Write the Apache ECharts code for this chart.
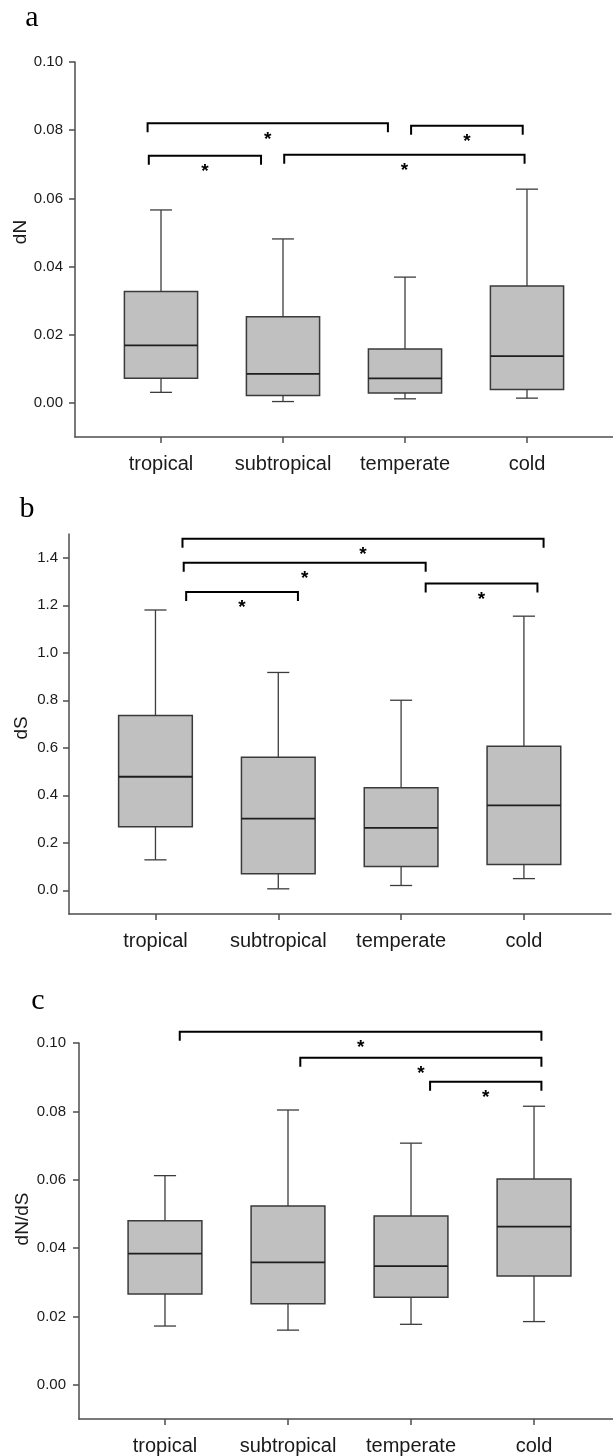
<!DOCTYPE html>
<html>
<head>
<meta charset="utf-8">
<script src="https://cdn.jsdelivr.net/npm/echarts@6/dist/echarts.min.js"></script>
<style>
  html, body { margin: 0; padding: 0; background: #ffffff; }
  #chart { width: 613px; height: 1456px; }
</style>
</head>
<body>
<div id="chart"></div>
<script>
// Climate zones on the x axis
const categories = ['tropical', 'subtropical', 'temperate', 'cold'];

// Box statistics per zone: [min, Q1, median, Q3, max]
const dnStats = [
  [0.0031, 0.0072, 0.0169, 0.0327, 0.0566],
  [0.0004, 0.0022, 0.0085, 0.0253, 0.0481],
  [0.0012, 0.0029, 0.0072, 0.0158, 0.0369],
  [0.0014, 0.0039, 0.0137, 0.0343, 0.0627]
];
const dsStats = [
  [0.128, 0.267, 0.478, 0.736, 1.180],
  [0.006, 0.070, 0.302, 0.560, 0.917],
  [0.020, 0.100, 0.263, 0.432, 0.800],
  [0.049, 0.108, 0.357, 0.606, 1.154]
];
const dndsStats = [
  [0.0172, 0.0266, 0.0384, 0.0480, 0.0612],
  [0.0160, 0.0237, 0.0358, 0.0523, 0.0804],
  [0.0177, 0.0256, 0.0347, 0.0494, 0.0707],
  [0.0185, 0.0318, 0.0463, 0.0602, 0.0815]
];

// Significance brackets: [from (category units), to (category units), bracket height]
const dnBrackets = [[-0.11, 1.86, 0.0820], [2.05, 2.965, 0.0813], [-0.10, 0.82, 0.0725], [1.01, 2.98, 0.0728]];
const dsBrackets = [[0.22, 3.16, 1.480], [0.23, 2.20, 1.379], [0.25, 1.16, 1.256], [2.20, 3.11, 1.292]];
const dndsBrackets = [[0.12, 3.06, 0.1033], [1.10, 3.06, 0.0957], [2.155, 3.06, 0.0887]];

// Tick values for each y axis
const dnTicks = [0, 0.02, 0.04, 0.06, 0.08, 0.10];
const dsTicks = [0, 0.2, 0.4, 0.6, 0.8, 1.0, 1.2, 1.4];
const dndsTicks = [0, 0.02, 0.04, 0.06, 0.08, 0.10];
const categoryTicks = [0, 1, 2, 3];

const panels = [
  { letter: 'a', yName: 'dN', stats: dnStats, brackets: dnBrackets, ticks: dnTicks, digits: 2,
    yMin: -0.01, yMax: 0.10, xMin: -0.705, xMax: 3.705,
    grid: { left: 75, top: 62, width: 538, height: 375 }, labelMargin: 12,
    letterPos: [32, 18], namePos: [21, 232] },
  { letter: 'b', yName: 'dS', stats: dsStats, brackets: dsBrackets, ticks: dsTicks, digits: 1,
    yMin: -0.1, yMax: 1.5, xMin: -0.704, xMax: 3.709,
    grid: { left: 69, top: 534, width: 542, height: 380 }, labelMargin: 11,
    letterPos: [27, 509], namePos: [22, 728] },
  { letter: 'c', yName: 'dN/dS', stats: dndsStats, brackets: dndsBrackets, ticks: dndsTicks, digits: 2,
    yMin: -0.01, yMax: 0.10, xMin: -0.699, xMax: 3.642,
    grid: { left: 79, top: 1043, width: 534, height: 380 }, labelMargin: 13,
    letterPos: [38, 1001], namePos: [23, 1219] }
];

const AXIS_COLOR = '#4d4d4d';
const TEXT_COLOR = '#1a1a1a';
const SANS = '"Liberation Sans", Arial, sans-serif';

function renderBox(params, api) {
  const x = api.value(0);
  const mn = api.value(1), q1 = api.value(2), md = api.value(3), q3 = api.value(4), mx = api.value(5);
  const half = api.size([0.6, 0])[0] / 2;
  const cap = api.size([0.18, 0])[0] / 2;
  const pMin = api.coord([x, mn]);
  const pQ1 = api.coord([x, q1]);
  const pMd = api.coord([x, md]);
  const pQ3 = api.coord([x, q3]);
  const pMax = api.coord([x, mx]);
  const cx = pMin[0];
  const whisker = { stroke: '#3c3c3c', lineWidth: 1.3 };
  return {
    type: 'group',
    children: [
      { type: 'line', shape: { x1: cx, y1: pQ3[1], x2: cx, y2: pMax[1] }, style: whisker },
      { type: 'line', shape: { x1: cx - cap, y1: pMax[1], x2: cx + cap, y2: pMax[1] }, style: whisker },
      { type: 'line', shape: { x1: cx, y1: pQ1[1], x2: cx, y2: pMin[1] }, style: whisker },
      { type: 'line', shape: { x1: cx - cap, y1: pMin[1], x2: cx + cap, y2: pMin[1] }, style: whisker },
      { type: 'rect', shape: { x: cx - half, y: pQ3[1], width: half * 2, height: pQ1[1] - pQ3[1] },
        style: { fill: '#c0c0c0', stroke: '#3a3a3a', lineWidth: 1.5 } },
      { type: 'line', shape: { x1: cx - half, y1: pMd[1], x2: cx + half, y2: pMd[1] },
        style: { stroke: '#1e1e1e', lineWidth: 1.8 } }
    ]
  };
}

function renderBracket(params, api) {
  const a = api.coord([api.value(0), api.value(2)]);
  const b = api.coord([api.value(1), api.value(2)]);
  const leg = 9;
  return {
    type: 'group',
    children: [
      { type: 'polyline',
        shape: { points: [[a[0], a[1] + leg], [a[0], a[1]], [b[0], b[1]], [b[0], b[1] + leg]] },
        style: { fill: null, stroke: '#000000', lineWidth: 2 } },
      { type: 'text',
        style: { text: '*', x: (a[0] + b[0]) / 2, y: a[1] + 16, align: 'center', verticalAlign: 'middle',
                 font: 'bold 19px ' + SANS, fill: '#000000' } }
    ]
  };
}

const grids = [], xAxes = [], yAxes = [], series = [], graphics = [];

panels.forEach((p, i) => {
  grids.push(Object.assign({ containLabel: false }, p.grid));
  xAxes.push({
    gridIndex: i, type: 'value', min: p.xMin, max: p.xMax,
    splitLine: { show: false },
    axisLine: { show: true, onZero: false, lineStyle: { color: AXIS_COLOR, width: 1.5 } },
    axisTick: { show: true, customValues: categoryTicks, length: 6, lineStyle: { color: AXIS_COLOR, width: 1.5 } },
    axisLabel: { customValues: categoryTicks, formatter: v => categories[Math.round(v)],
                 fontSize: 20, fontFamily: SANS, color: TEXT_COLOR, margin: 17 }
  });
  yAxes.push({
    gridIndex: i, type: 'value', min: p.yMin, max: p.yMax,
    splitLine: { show: false },
    axisLine: { show: true, onZero: false, lineStyle: { color: AXIS_COLOR, width: 1.5 } },
    axisTick: { show: true, customValues: p.ticks, length: 6, lineStyle: { color: AXIS_COLOR, width: 1.5 } },
    axisLabel: { customValues: p.ticks, formatter: v => v.toFixed(p.digits),
                 fontSize: 15, fontFamily: SANS, color: TEXT_COLOR, margin: p.labelMargin }
  });
  series.push({
    type: 'custom', xAxisIndex: i, yAxisIndex: i, clip: false,
    renderItem: renderBox,
    encode: { x: 0, y: [1, 2, 3, 4, 5] },
    data: p.stats.map((s, k) => [k].concat(s))
  });
  series.push({
    type: 'custom', xAxisIndex: i, yAxisIndex: i, clip: false,
    renderItem: renderBracket,
    encode: { x: [0, 1], y: 2 },
    data: p.brackets
  });
  graphics.push({
    type: 'text', x: p.letterPos[0], y: p.letterPos[1],
    style: { text: p.letter, font: '30px "Liberation Serif", "Times New Roman", serif', fill: '#000',
             align: 'center', verticalAlign: 'middle' }
  });
  graphics.push({
    type: 'text', x: p.namePos[0], y: p.namePos[1], rotation: Math.PI / 2,
    style: { text: p.yName, font: '19px ' + SANS, fill: TEXT_COLOR, align: 'center', verticalAlign: 'middle' }
  });
});

const chart = echarts.init(document.getElementById('chart'), null, { renderer: 'canvas' });
chart.setOption({
  animation: false,
  backgroundColor: '#ffffff',
  grid: grids,
  xAxis: xAxes,
  yAxis: yAxes,
  series: series,
  graphic: graphics
});
</script>
</body>
</html>
